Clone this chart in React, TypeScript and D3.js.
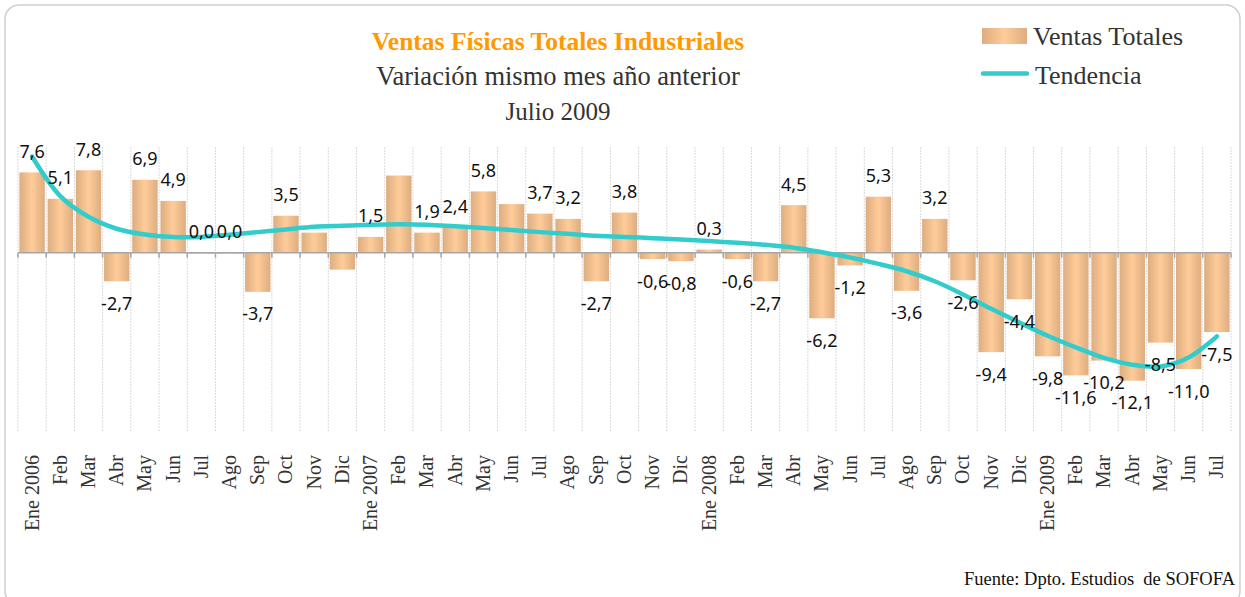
import React from "react";
import * as d3 from "d3";

// Ventas físicas totales industriales, variación % mismo mes año anterior
const categories = [
  "Ene 2006", "Feb", "Mar", "Abr", "May", "Jun", "Jul", "Ago", "Sep", "Oct", "Nov", "Dic",
  "Ene 2007", "Feb", "Mar", "Abr", "May", "Jun", "Jul", "Ago", "Sep", "Oct", "Nov", "Dic",
  "Ene 2008", "Feb", "Mar", "Abr", "May", "Jun", "Jul", "Ago", "Sep", "Oct", "Nov", "Dic",
  "Ene 2009", "Feb", "Mar", "Abr", "May", "Jun", "Jul",
];

const ventasTotales = [
  7.6, 5.1, 7.8, -2.7, 6.9, 4.9, 0.0, 0.0, -3.7, 3.5, 1.9, -1.6,
  1.5, 7.3, 1.9, 2.4, 5.8, 4.6, 3.7, 3.2, -2.7, 3.8, -0.6, -0.8,
  0.3, -0.6, -2.7, 4.5, -6.2, -1.2, 5.3, -3.6, 3.2, -2.6, -9.4, -4.4,
  -9.8, -11.6, -10.2, -12.1, -8.5, -11.0, -7.5,
];

// trend curve
const tendencia = [
  9.1, 5.35, 3.4, 2.27, 1.73, 1.5, 1.5, 1.7, 1.95, 2.2, 2.45, 2.55,
  2.65, 2.7, 2.65, 2.5, 2.35, 2.15, 1.95, 1.8, 1.6, 1.5, 1.38, 1.25,
  1.1, 0.95, 0.75, 0.48, 0.05, -0.45, -1.05, -1.75, -2.7, -3.95, -5.3, -6.6,
  -7.85, -8.95, -9.95, -10.6, -10.75, -9.9, -7.9,
];

// labels Excel dropped because of overlap
const hiddenLabels = [10, 11, 13, 17];

const yDomain = [-17, 10];

const W = 1245;
const H = 597;
const serif = "'Liberation Serif', 'Times New Roman', serif";
const sans = "'Noto Sans', 'DejaVu Sans', sans-serif";

const fmt = (v: number) => v.toFixed(1).replace(".", ",");

export default function App() {
  const ids = categories.map((_, i) => String(i));
  const x = d3.scaleBand<string>().domain(ids).range([18, 1231]).paddingInner(0.1).paddingOuter(0.05);
  const y = d3.scaleLinear().domain(yDomain).range([432.5, 147]);
  const step = x.step();
  const y0 = y(0);

  const line = d3
    .line<number>()
    .x((_, i) => (x(String(i)) || 0) + x.bandwidth() / 2)
    .y((d) => y(d))
    .curve(d3.curveCatmullRom.alpha(0.5));

  const bounds = d3.range(categories.length + 1).map((i) => x.range()[0] + i * step);

  return (
    <svg width={W} height={H} style={{ position: "absolute", left: 0, top: 0, background: "#fff" }}>
      <defs>
        <linearGradient id="barGrad" x1="0" x2="1" y1="0" y2="0">
          <stop offset="0%" stopColor="#DDAD80" />
          <stop offset="50%" stopColor="#FFCC99" />
          <stop offset="100%" stopColor="#DDAD80" />
        </linearGradient>
      </defs>

      <rect x={5} y={5} width={1235} height={600} rx={14} fill="#fff" stroke="#cfcfcf" strokeWidth={1.5} />

      {/* titles */}
      <g fontFamily={serif} textAnchor="middle">
        <text x={558} y={50} fontSize={25.5} fontWeight="bold" fill="#FF9900">
          Ventas Físicas Totales Industriales
        </text>
        <text x={558} y={85} fontSize={26.5} fill="#333">
          Variación mismo mes año anterior
        </text>
        <text x={558} y={120} fontSize={25} fill="#333">
          Julio 2009
        </text>
      </g>

      {/* legend */}
      <g fontFamily={serif} fontSize={26} fill="#333">
        <rect x={982} y={28} width={45} height={16} fill="url(#barGrad)" />
        <text x={1033} y={45}>Ventas Totales</text>
        <line x1={983} x2={1027} y1={73.5} y2={73.5} stroke="#33CCCC" strokeWidth={4.5} strokeLinecap="round" />
        <text x={1035} y={83.5}>Tendencia</text>
      </g>

      {/* vertical gridlines */}
      {bounds.map((bx, i) => (
        <line key={"g" + i} x1={bx} x2={bx} y1={147} y2={432} stroke="#dadada" strokeWidth={1} strokeDasharray="2,1" />
      ))}

      {/* bars */}
      {ventasTotales.map((v, i) => (
        <rect
          key={"b" + i}
          x={x(String(i))}
          width={x.bandwidth()}
          y={Math.min(y(v), y0)}
          height={Math.max(Math.abs(y(v) - y0), v === 0 ? 1 : 0)}
          fill="url(#barGrad)"
        />
      ))}

      {/* zero axis with ticks */}
      <line x1={bounds[0]} x2={bounds[bounds.length - 1]} y1={y0} y2={y0} stroke="#a6a6a6" strokeWidth={1.5} />
      {bounds.map((bx, i) => (
        <line key={"t" + i} x1={bx} x2={bx} y1={y0} y2={y0 + 5} stroke="#a6a6a6" strokeWidth={1.5} />
      ))}

      {/* trend */}
      <path d={line(tendencia) || ""} fill="none" stroke="#33CCCC" strokeWidth={4.5} strokeLinecap="round" />

      {/* value labels */}
      <g fontFamily={sans} fontSize={18} fill="#111" textAnchor="middle">
        {ventasTotales.map((v, i) =>
          hiddenLabels.includes(i) ? null : (
            <text
              key={"l" + i}
              x={(x(String(i)) || 0) + x.bandwidth() / 2}
              y={v >= 0 ? y(v) - 14.5 : y(v) + 28.5}
            >
              {fmt(v)}
            </text>
          )
        )}
      </g>

      {/* category labels */}
      <g fontFamily={serif} fontSize={20} fill="#333" textAnchor="end">
        {categories.map((c, i) => {
          const cx = (x(String(i)) || 0) + x.bandwidth() / 2;
          return (
            <text key={"c" + i} transform={`translate(${cx},455) rotate(-90)`} dy="0.32em">
              {c}
            </text>
          );
        })}
      </g>

      <text x={1235} y={585} fontFamily={serif} fontSize={18.5} fill="#111" textAnchor="end" style={{ whiteSpace: "pre" }}>
        {"Fuente: Dpto. Estudios  de SOFOFA"}
      </text>
    </svg>
  );
}
